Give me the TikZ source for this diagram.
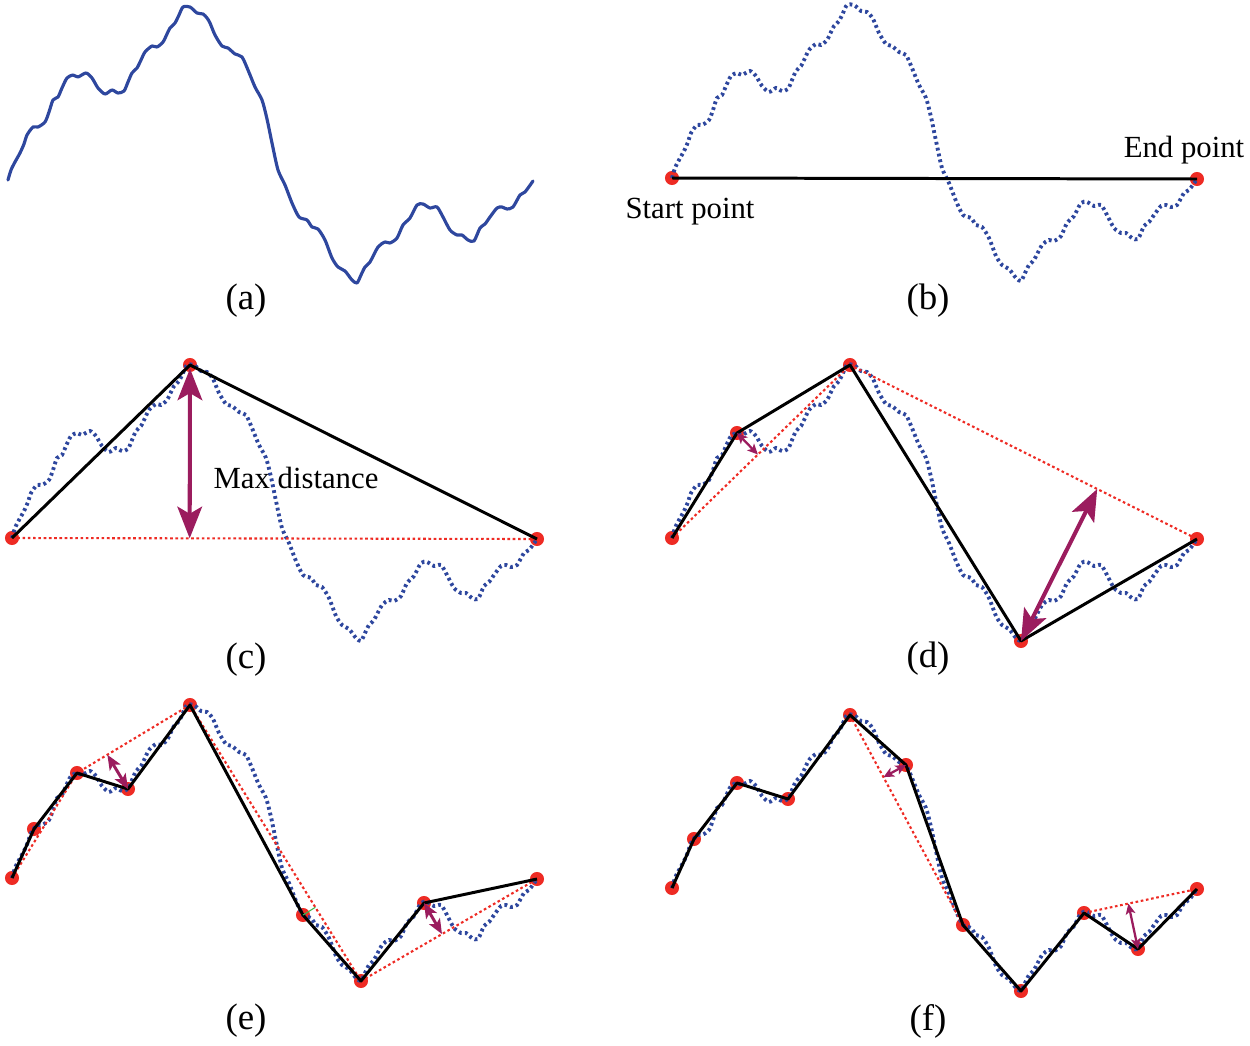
\documentclass[tikz,border=0pt]{standalone}
\usepackage{fontspec}
\setmainfont{Liberation Serif}
\usetikzlibrary{arrows.meta,calc}

\definecolor{bleucourbe}{HTML}{2E479E}
\definecolor{rougepoint}{HTML}{EE2B24}
\definecolor{bordeaux}{HTML}{9B1C5E}
\definecolor{vertpied}{HTML}{3DB54A}

% Signal commun (repere de la figure (a))
\newcommand{\courbesignal}{plot[smooth,tension=0.45] coordinates {
 (8,180) (11,170) (15,162) (20,153) (24,144) (27,135) (33,127) (38,127)
 (45,122) (49,112) (53,100) (58,97) (62,88) (67,78) (73,75) (78,77)
 (86,73) (92,78) (98,88) (105,94) (112,90) (118,93) (124,91) (128,82)
 (132,73) (137,68) (141,60) (145,52) (152,46) (157,47) (163,42) (167,34)
 (170,28) (175,23) (179,15) (183,7) (190,7) (197,13) (203,14) (207,18)
 (210,23) (215,35) (222,46) (228,48) (235,54) (242,57) (248,70) (255,87)
 (262,100) (267,119) (272,143) (278,170) (285,185) (292,203) (299,217) (307,220)
 (312,227) (318,229) (325,240) (332,258) (338,267) (345,271) (352,280) (357,283)
 (361,275) (365,267) (370,262) (378,247) (385,242) (390,243) (397,238) (403,225)
 (410,218) (417,205) (423,204) (430,208) (437,207) (443,217) (450,230) (457,235)
 (462,235) (468,240) (474,241) (480,228) (485,224) (490,217) (497,208) (502,207)
 (507,209) (513,207) (520,195) (525,192) (533,181)}}

\begin{document}
\begin{tikzpicture}[x=0.02cm,y=-0.02cm,
    courbeplein/.style={bleucourbe,line width=1.8pt,line join=round,line cap=round},
    courbepts/.style={bleucourbe,line width=2.2pt,dash pattern=on 1.6pt off 1.8pt},
    ligne/.style={black,line width=1.7pt,line join=round},
    corde/.style={rougepoint,line width=1.2pt,dash pattern=on 1.5pt off 1.5pt},
    sommet/.style={circle,fill=rougepoint,inner sep=0pt,minimum size=8pt},
    grandefleche/.style={bordeaux,line width=2.3pt,
      {Stealth[length=18pt,width=14pt,inset=4pt]}-{Stealth[length=18pt,width=14pt,inset=4pt]}},
    moyennefleche/.style={bordeaux,line width=1.7pt,
      {Stealth[length=8.5pt,width=7pt,inset=2pt]}-{Stealth[length=8.5pt,width=7pt,inset=2pt]}},
    petitefleche/.style={bordeaux,line width=1.3pt,
      {Stealth[length=6pt,width=5.5pt,inset=1.5pt]}-{Stealth[length=6pt,width=5.5pt,inset=1.5pt]}},
    legende/.style={font=\fontsize{21}{24}\selectfont},
    texte/.style={font=\fontsize{17.5}{20}\selectfont}]
        \useasboundingbox (0,0) rectangle (1250,1045);

        % (a) Signal d'origine
        \draw[courbeplein] \courbesignal;
        \node[legende] (leg-a) at (246,301) {(a)};

        % (b) Point de depart et point d'arrivee
        \begin{scope}[shift={(664,-2)}]
            \node[sommet] (bs) at (8,180) {};
            \node[sommet] (be) at (533,181) {};
            \draw[courbepts] \courbesignal;
        \end{scope}
        \draw[ligne] (bs.center) -- (be.center);
        \node[texte] (depart) at (690,212) {Start point};
        \node[texte] (arrivee) at (1184,150) {End point};
        \node[legende] (leg-b) at (928,301) {(b)};

        % (c) Distance maximale
        \begin{scope}[shift={(4,358)}]
            \foreach \n/\x/\y in {s/8/180, p/186/7, e/533/181}
                \node[sommet] (c\n) at (\x,\y) {};
            \draw[courbepts] \courbesignal;
        \end{scope}
        \draw[corde] (cs.center) -- (ce.center);
        \draw[ligne] (cs.center) -- (cp.center) -- (ce.center);
        \draw[grandefleche,shorten <=2pt] (cp.center) -- ($(cs.center)!(cp.center)!(ce.center)$);
        \node[texte] (maxdist) at (296,478) {Max distance};
        \node[legende] (leg-c) at (246,660) {(c)};

        % (d) Deuxieme decoupage
        \begin{scope}[shift={(664,358)}]
            \foreach \n/\x/\y in {s/8/180, 2/73/75, p/186/7, m/357/283, e/533/181}
                \node[sommet] (d\n) at (\x,\y) {};
            \draw[courbepts] \courbesignal;
        \end{scope}
        \draw[corde] (ds.center) -- (dp.center) -- (de.center);
        \draw[ligne] (ds.center) -- (d2.center) -- (dp.center) -- (dm.center) -- (de.center);
        \draw[petitefleche] (d2.center) -- ($(ds.center)!(d2.center)!(dp.center)$);
        \draw[grandefleche] (dm.center) -- ($(dp.center)!(dm.center)!(de.center)$);
        \node[legende] (leg-d) at (928,659) {(d)};

        % (e) Troisieme decoupage
        \begin{scope}[shift={(4,698)}]
            \foreach \n/\x/\y in {s/8/180, 1/30/131, 2/73/75, 3/124/91, p/186/7,
                                  6/299/217, m/357/283, 8/420/205, e/533/181}
                \node[sommet] (e\n) at (\x,\y) {};
            \draw[courbepts] \courbesignal;
        \end{scope}
        \draw[corde] (es.center) -- (e2.center) -- (ep.center) -- (em.center) -- (ee.center);
        \draw[ligne] (es.center) -- (e1.center) -- (e2.center) -- (e3.center) -- (ep.center)
            -- (e6.center) -- (em.center) -- (e8.center) -- (ee.center);
        \draw[vertpied,line width=0.6pt] (e6.center) -- ($(ep.center)!(e6.center)!(em.center)$);
        \draw[moyennefleche] (e3.center) -- ($(e2.center)!(e3.center)!(ep.center)$);
        \draw[moyennefleche] (e8.center) -- ($(em.center)!(e8.center)!(ee.center)$);
        \node[legende] (leg-e) at (246,1021) {(e)};

        % (f) Resultat final
        \begin{scope}[shift={(664,708)}]
            \foreach \n/\x/\y in {s/8/180, 1/30/131, 2/73/75, 3/124/91, p/186/7, 5/242/57,
                                  6/299/217, m/357/283, 8/420/205, 9/474/241, e/533/181}
                \node[sommet] (f\n) at (\x,\y) {};
            \draw[courbepts] \courbesignal;
        \end{scope}
        \draw[corde] (fp.center) -- (f6.center);
        \draw[corde] (f8.center) -- (fe.center);
        \draw[ligne] (fs.center) -- (f1.center) -- (f2.center) -- (f3.center) -- (fp.center)
            -- (f5.center) -- (f6.center) -- (fm.center) -- (f8.center) -- (f9.center) -- (fe.center);
        \draw[petitefleche] (f5.center) -- ($(fp.center)!(f5.center)!(f6.center)$);
        \draw[petitefleche] (f9.center) -- ($(f8.center)!(f9.center)!(fe.center)$);
        \node[legende] (leg-f) at (928,1021) {(f)};
    \end{tikzpicture}
\end{document}
